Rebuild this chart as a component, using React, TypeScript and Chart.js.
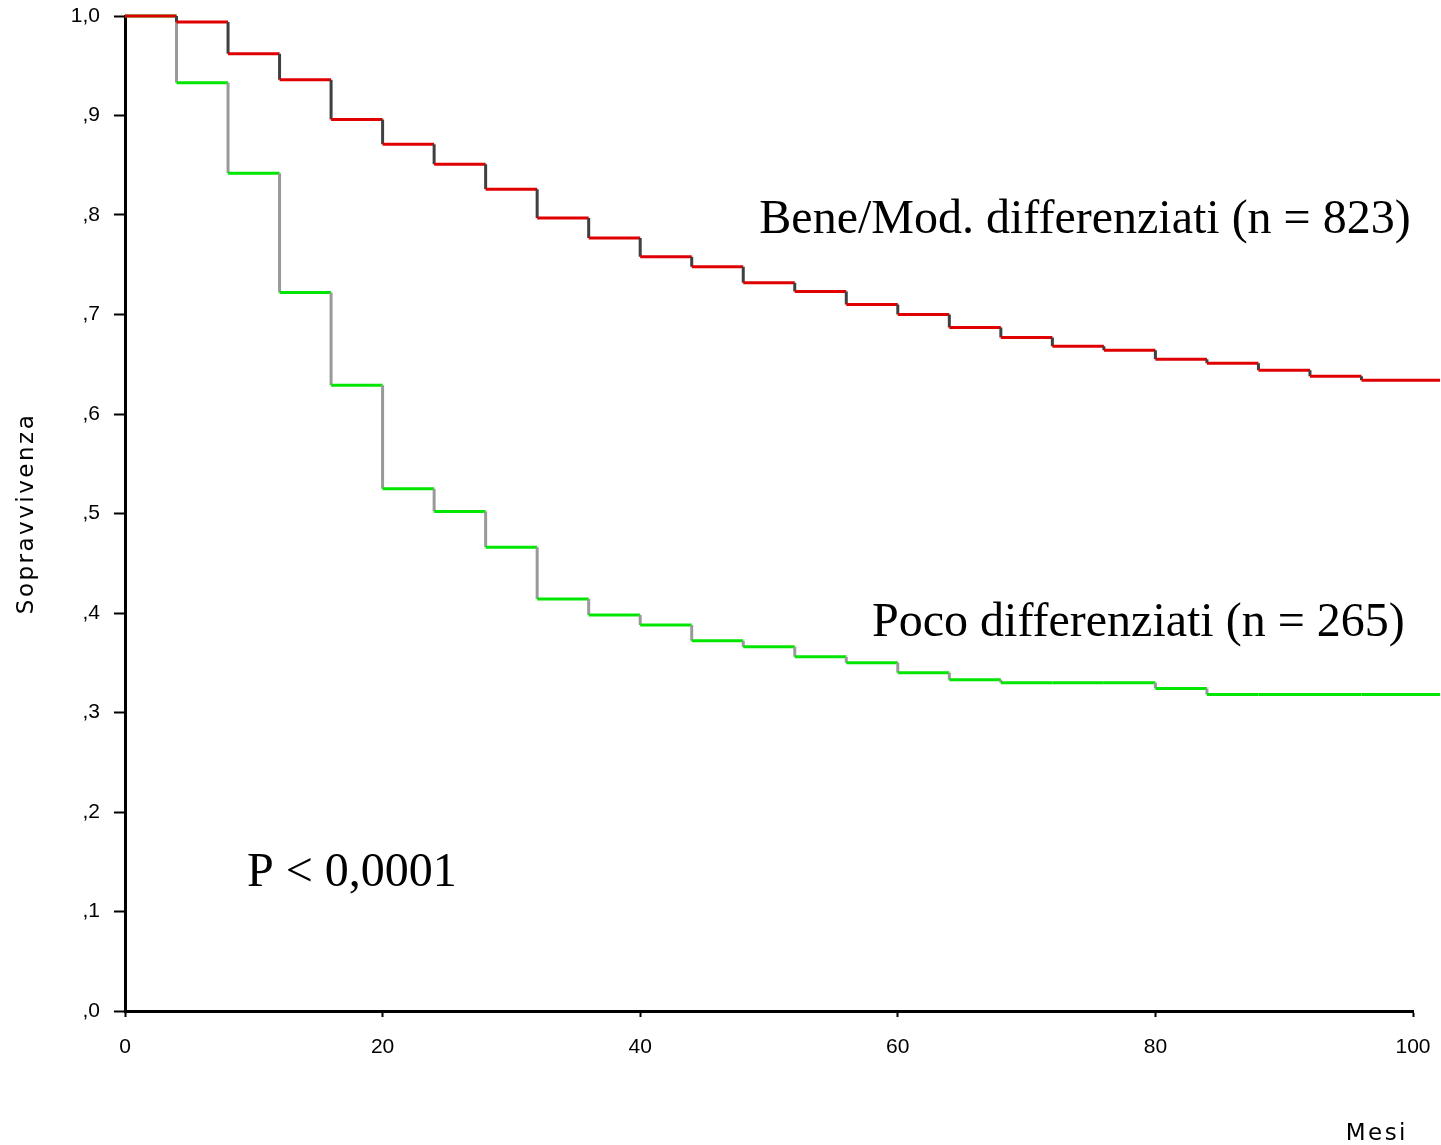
import React, { useEffect, useRef } from "react";
import { Chart, registerables } from "chart.js";

Chart.register(...registerables);

// Kaplan-Meier step starts (months) and survival over each interval
const stepTimes = [0, 4, 8, 12, 16, 20, 24, 28, 32, 36, 40, 44, 48, 52, 56, 60, 64, 68, 72, 76, 80, 84, 88, 92, 96];
const followUpEnd = 102.1;
const beneModSurvival = [1.0, 0.994, 0.962, 0.936, 0.896, 0.871, 0.851, 0.826, 0.797, 0.777, 0.758, 0.748, 0.732, 0.723, 0.710, 0.700, 0.687, 0.677, 0.668, 0.664, 0.655, 0.651, 0.644, 0.638, 0.634];
const pocoSurvival = [1.0, 0.933, 0.842, 0.722, 0.629, 0.525, 0.502, 0.466, 0.414, 0.398, 0.388, 0.372, 0.366, 0.356, 0.350, 0.340, 0.333, 0.330, 0.330, 0.330, 0.324, 0.318, 0.318, 0.318, 0.318];

const xTickValues = [0, 20, 40, 60, 80, 100];
const yTickLabels = [",0", ",1", ",2", ",3", ",4", ",5", ",6", ",7", ",8", ",9", "1,0"];
const seriesNames = ["Bene/Mod. differenziati (n = 823)", "Poco differenziati (n = 265)"];
const pValueText = "P < 0,0001";
const xTitle = "Mesi";
const yTitle = "Sopravvivenza";

// label anchors in data units (months, survival)
const labelAnchors = [
  { text: seriesNames[0], x: 49.25, y: 0.782 },
  { text: seriesNames[1], x: 58.0, y: 0.377 },
  { text: pValueText, x: 9.47, y: 0.126 },
];

function stepPoints(times: number[], values: number[], end: number) {
  const pts: { x: number; y: number }[] = [{ x: times[0], y: values[0] }];
  for (let i = 1; i < times.length; i++) {
    pts.push({ x: times[i], y: values[i - 1] });
    pts.push({ x: times[i], y: values[i] });
  }
  pts.push({ x: end, y: values[values.length - 1] });
  return pts;
}

const textPlugin = {
  id: "kmText",
  afterDatasetsDraw(chart: any) {
    const { ctx, scales, chartArea } = chart;
    const x = scales.x;
    const y = scales.y;
    ctx.save();
    ctx.fillStyle = "#000";
    ctx.font = '48px "Liberation Serif", "Times New Roman", serif';
    ctx.textAlign = "left";
    ctx.textBaseline = "alphabetic";
    labelAnchors.forEach((a) => {
      ctx.fillText(a.text, x.getPixelForValue(a.x), y.getPixelForValue(a.y));
    });
    ctx.font = '23px "DejaVu Sans", sans-serif';
    (ctx as any).letterSpacing = "2.5px";
    ctx.textAlign = "right";
    ctx.textBaseline = "alphabetic";
    ctx.fillText(xTitle, chartArea.right - 5, chart.height - 5);
    ctx.translate(27, (chartArea.top + chartArea.bottom) / 2);
    ctx.rotate(-Math.PI / 2);
    ctx.textAlign = "center";
    ctx.textBaseline = "middle";
    ctx.fillText(yTitle, 0, 0);
    ctx.restore();
  },
};

export default function App() {
  const ref = useRef<HTMLCanvasElement | null>(null);
  useEffect(() => {
    document.body.style.margin = "0";
    const canvas = ref.current;
    if (!canvas) return;
    const mk = (name: string, values: number[], horiz: string, vert: string) => ({
      label: name,
      data: stepPoints(stepTimes, values, followUpEnd),
      borderColor: horiz,
      borderWidth: 3,
      pointRadius: 0,
      fill: false,
      tension: 0,
      clip: false as any,
      borderJoinStyle: "miter" as const,
      segment: {
        borderColor: (c: any) => (c.p0.parsed.x === c.p1.parsed.x ? vert : horiz),
      },
    });
    const chart = new Chart(canvas, {
      type: "line",
      data: {
        datasets: [
          mk(seriesNames[0], beneModSurvival, "#e00000", "#404040"),
          mk(seriesNames[1], pocoSurvival, "#00e600", "#999999"),
        ],
      },
      options: {
        animation: false,
        responsive: false,
        parsing: false as any,
        layout: { padding: { left: 0, right: 28, top: 16, bottom: 0 } },
        plugins: { legend: { display: false }, tooltip: { enabled: false } },
        scales: {
          x: {
            type: "linear",
            min: 0,
            max: 100,
            afterBuildTicks: (s: any) => {
              s.ticks = xTickValues.map((v) => ({ value: v }));
            },
            afterFit: (s: any) => {
              s.height = 134;
              s.paddingLeft = 0;
              s.paddingRight = 0;
            },
            grid: { drawOnChartArea: false, drawTicks: true, tickLength: 6, tickColor: "#000", tickWidth: 2 },
            border: { display: true, color: "#000", width: 3 },
            ticks: {
              padding: 18,
              color: "#000",
              font: { family: '"Liberation Sans", Arial, sans-serif', size: 21 },
              maxRotation: 0,
              callback: (v: any) => String(v),
            },
          },
          y: {
            type: "linear",
            min: 0,
            max: 1,
            afterBuildTicks: (s: any) => {
              s.ticks = yTickLabels.map((_, i) => ({ value: i / 10 }));
            },
            afterFit: (s: any) => {
              s.width = 125;
              s.paddingTop = 0;
              s.paddingBottom = 0;
            },
            grid: { drawOnChartArea: false, drawTicks: true, tickLength: 11, tickColor: "#000", tickWidth: 2 },
            border: { display: true, color: "#000", width: 3 },
            ticks: {
              padding: 14,
              color: "#000",
              font: { family: '"Liberation Sans", Arial, sans-serif', size: 21 },
              callback: (_v: any, i: number) => yTickLabels[i],
            },
          },
        },
      },
      plugins: [textPlugin],
    });
    return () => chart.destroy();
  }, []);
  return (
    <div style={{ position: "absolute", left: 0, top: 0 }}>
      <canvas ref={ref} width={1441} height={1145} style={{ display: "block" }} />
    </div>
  );
}
